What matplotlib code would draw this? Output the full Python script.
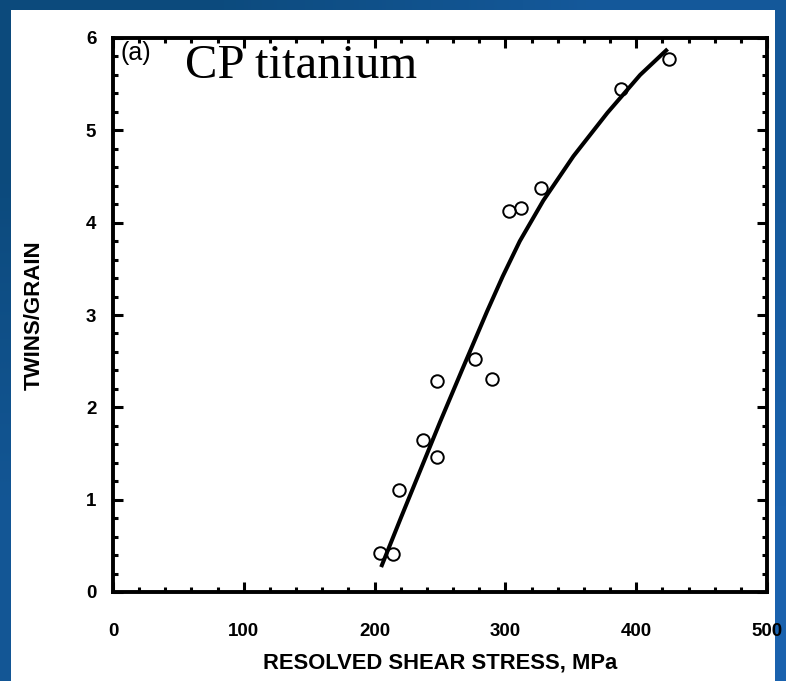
import numpy as np
import matplotlib
matplotlib.use("Agg")
import matplotlib.pyplot as plt
from matplotlib.ticker import MultipleLocator
from matplotlib.patches import Rectangle

# --- data ---
stress = [204, 214, 219, 237, 248, 248, 277, 290, 303, 312, 327, 388, 425]
twins = [0.42, 0.41, 1.11, 1.65, 1.46, 2.29, 2.52, 2.31, 4.13, 4.16, 4.38, 5.45, 5.77]

# hand-drawn fit curve
curve_x = [205, 220, 235, 250, 267, 286, 298, 311, 329, 352, 378, 403, 424]
curve_y = [0.27, 0.80, 1.32, 1.84, 2.41, 3.04, 3.42, 3.80, 4.24, 4.72, 5.19, 5.60, 5.88]

x_ticks = [0, 100, 200, 300, 400, 500]
y_ticks = [0, 1, 2, 3, 4, 5, 6]

FIG_W, FIG_H = 786, 681
DPI = 100

fig = plt.figure(figsize=(FIG_W / DPI, FIG_H / DPI), dpi=DPI)

# slide background: blue gradient
bg = fig.add_axes([0, 0, 1, 1], zorder=-10)
grad = np.array([[0.0, 0.6], [0.5, 1.0]])
bg.imshow(grad, cmap=matplotlib.colors.LinearSegmentedColormap.from_list(
    "slide", ["#0c4a7c", "#1a62ae"]), aspect="auto", interpolation="bilinear",
    extent=[0, 1, 0, 1])
bg.set_axis_off()
# white scanned page
bg.add_patch(Rectangle((11 / FIG_W, 0), (775 - 11) / FIG_W, 1 - 10 / FIG_H,
                       transform=bg.transAxes, facecolor="white", edgecolor="none"))
bg.set_xlim(0, 1); bg.set_ylim(0, 1)

left, right = 113 / FIG_W, 767 / FIG_W
bottom, top = 1 - 592 / FIG_H, 1 - 38 / FIG_H
ax = fig.add_axes([left, bottom, right - left, top - bottom])
ax.set_facecolor("none")

ax.plot(curve_x, curve_y, color="black", lw=2.9, solid_capstyle="butt",
        solid_joinstyle="round")
ax.plot(stress, twins, linestyle="none", marker="o", ms=9, mfc="none",
        mec="black", mew=1.4)

ax.set_xlim(0, 500)
ax.set_ylim(0, 6)
ax.set_xticks(x_ticks)
ax.set_yticks(y_ticks)
ax.xaxis.set_minor_locator(MultipleLocator(20))
ax.yaxis.set_minor_locator(MultipleLocator(0.2))

for s in ax.spines.values():
    s.set_linewidth(2.8)

ax.tick_params(which="both", direction="in", top=True, right=True, width=2.2)
ax.tick_params(which="major", length=7.5)
ax.tick_params(which="minor", length=3.8)
ax.tick_params(axis="x", which="major", pad=22)
ax.tick_params(axis="y", which="major", pad=12)

tick_font = dict(family="Liberation Sans", weight="bold", size=13.5)
ax.set_xticklabels([str(v) for v in x_ticks], fontdict=tick_font)
ax.set_yticklabels([str(v) for v in y_ticks], fontdict=tick_font)

ax.set_xlabel("RESOLVED SHEAR STRESS, MPa", family="Liberation Sans",
              weight="bold", size=15.8, labelpad=9)
ax.set_ylabel("TWINS/GRAIN", family="Liberation Sans", weight="bold",
              size=16, labelpad=30)

ax.text(0.012, 0.995, "(a)", transform=ax.transAxes, ha="left", va="top",
        family="Liberation Sans", size=18)
ax.text(0.11, 0.99, "CP titanium", transform=ax.transAxes, ha="left", va="top",
        family="Liberation Serif", size=35)

fig.savefig("out.png", dpi=DPI)
